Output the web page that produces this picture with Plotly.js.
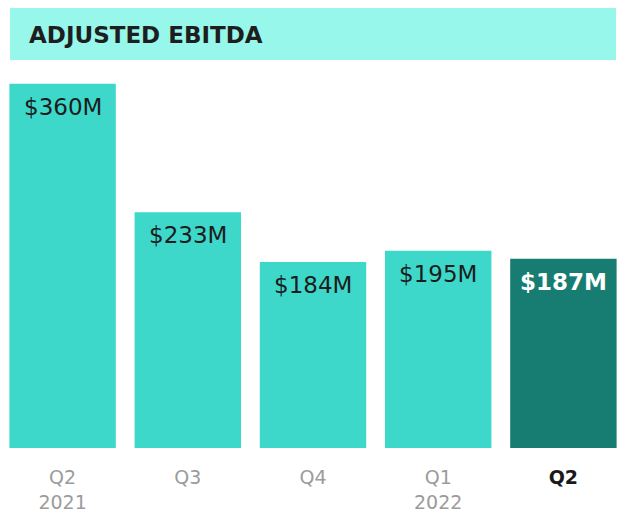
<!DOCTYPE html>
<html>
<head>
<meta charset="utf-8">
<script src="https://cdn.plot.ly/plotly-3.0.1.min.js"></script>
<style>html,body{margin:0;padding:0;background:#fff;}#chart{width:640px;height:531px;}</style>
</head>
<body>
<div id="chart"></div>
<script>
const categories = ['Q2 2021', 'Q3 2021', 'Q4 2021', 'Q1 2022', 'Q2 2022'];
const quarters = ['Q2', 'Q3', 'Q4', 'Q1', 'Q2'];
const years = ['2021', '', '', '2022', ''];
const values = [360, 233, 184, 195, 187];
const valueLabels = ['$360M', '$233M', '$184M', '$195M', '$187M'];
const chartTitle = 'ADJUSTED EBITDA';

const barColors = values.map((v, i) => i === values.length - 1 ? '#177D73' : '#3DD8CA');
const last = values.length - 1;

const trace = {
  type: 'bar',
  x: categories,
  y: values,
  marker: {color: barColors, line: {width: 0}},
  hoverinfo: 'skip'
};

const annotations = [];
categories.forEach((c, i) => {
  annotations.push({
    x: c, y: values[i], xref: 'x', yref: 'y',
    text: i === last ? '<b>' + valueLabels[i] + '</b>' : valueLabels[i],
    showarrow: false, xanchor: 'center', yanchor: 'top', yshift: -8,
    font: {family: 'DejaVu Sans', size: 23, color: i === last ? '#ffffff' : '#1c1c1c'}
  });
});
annotations.push({
  x: 27 / 626, y: (448 - 35) / 440, xref: 'paper', yref: 'paper',
  text: '<b>' + chartTitle + '</b>', showarrow: false, xanchor: 'left', yanchor: 'middle',
  font: {family: 'DejaVu Sans', size: 23, color: '#1e1e1e'}
});

const tickText = quarters.map((q, i) => {
  const t = years[i] ? q + '<br>' + years[i] : q;
  return i === last ? '<b><span style="color:#1a1a1a">' + t + '</span></b>' : t;
});

const layout = {
  width: 640, height: 531,
  margin: {l: 0, r: 14, t: 8, b: 83, pad: 0},
  paper_bgcolor: '#ffffff', plot_bgcolor: '#ffffff',
  bargap: 0.15,
  showlegend: false,
  xaxis: {
    type: 'category', tickvals: categories, ticktext: tickText,
    tickfont: {family: 'DejaVu Sans', size: 19, color: '#9b9b9b'},
    showgrid: false, zeroline: false, showline: false, ticks: '', ticklabelstandoff: 16
  },
  yaxis: {range: [0, 435], visible: false, showgrid: false, zeroline: false},
  shapes: [{
    type: 'rect', xref: 'paper', yref: 'paper', layer: 'below',
    x0: 10 / 626, x1: 616 / 626, y0: (448 - 60) / 440, y1: 1,
    fillcolor: '#96F7EA', line: {width: 0}
  }],
  annotations: annotations
};

Plotly.newPlot('chart', [trace], layout, {displayModeBar: false, staticPlot: true});
</script>
</body>
</html>
